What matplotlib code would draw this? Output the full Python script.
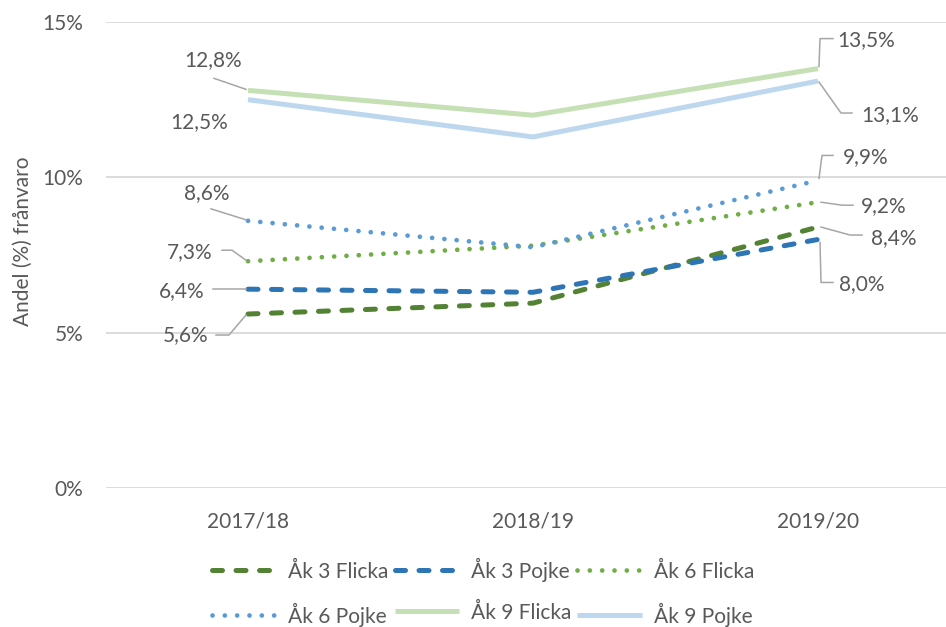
import matplotlib
matplotlib.use("Agg")
import matplotlib.pyplot as plt
from matplotlib.transforms import offset_copy

plt.rcParams['font.family'] = ['Lato', 'DejaVu Sans']

# data
years = ['2017/18', '2018/19', '2019/20']
ak3_flicka = [5.6, 5.95, 8.4]
ak3_pojke = [6.4, 6.3, 8.0]
ak6_flicka = [7.3, 7.8, 9.2]
ak6_pojke = [8.6, 7.75, 9.9]
ak9_flicka = [12.8, 12.0, 13.5]
ak9_pojke = [12.5, 11.3, 13.1]
yticks = [0, 5, 10, 15]

grey = '#595959'
fs = 15
fig = plt.figure(figsize=(9.46, 6.27), dpi=100)
ax = fig.add_axes([105.5 / 946, 139 / 627, 855 / 946, 466 / 627])

x = range(len(years))
dash = dict(linewidth=3.6, dash_capstyle='round', linestyle=(0, (2.0, 2.7)))
dot = dict(linewidth=3.4, dash_capstyle='round', linestyle=(0, (0.01, 2.6)))
solid = dict(linewidth=3.6, solid_capstyle='butt')

l1, = ax.plot(x, ak3_flicka, color='#548235', label='Åk 3 Flicka', **dash)
l2, = ax.plot(x, ak3_pojke, color='#2E75B6', label='Åk 3 Pojke', **dash)
l3, = ax.plot(x, ak6_flicka, color='#70AD47', label='Åk 6 Flicka', **dot)
l4, = ax.plot(x, ak6_pojke, color='#5B9BD5', label='Åk 6 Pojke', **dot)
l5, = ax.plot(x, ak9_flicka, color='#C5E0B4', label='Åk 9 Flicka', **solid)
l6, = ax.plot(x, ak9_pojke, color='#BDD7EE', label='Åk 9 Pojke', **solid)

ax.set_xlim(-0.5, 2.5)
ax.set_ylim(0, 15)
ax.set_yticks(yticks)
ax.set_yticklabels([f'{t}%' for t in yticks])
ax.set_xticks(list(x))
ax.set_xticklabels(years)
ax.tick_params(axis='both', length=0, labelsize=fs, colors=grey)
ax.tick_params(axis='y', pad=16)
ax.tick_params(axis='x', pad=17)
ax.grid(axis='y', color='#D9D9D9', linewidth=1.3)
ax.set_axisbelow(True)
for s in ax.spines.values():
    s.set_visible(False)
ax.set_ylabel('Andel (%) frånvaro', fontsize=fs, color=grey)
ax.yaxis.set_label_coords(-0.085, 0.53)

# data labels: (series, index, text offset, leader points) in pixels from the point
labels = [
    (ak9_flicka, 0, (-35, 30), [(-34, 12), (-2, 1)]),
    (ak9_pojke, 0, (-49, -22), []),
    (ak6_pojke, 0, (-41, 28), [(-37, 12), (-2, 1)]),
    (ak6_flicka, 0, (-58, 9), [(-26, 11), (-16, 11), (-2, 1)]),
    (ak3_pojke, 0, (-66, -2), [(-35, 0), (-2, 0)]),
    (ak3_flicka, 0, (-62, -21), [(-32, -21), (-19, -21), (-2, -1)]),
    (ak9_flicka, 2, (48, 29), [(1, 2), (2, 30), (15, 30)]),
    (ak9_pojke, 2, (72, -34), [(1, -1), (23, -32), (34, -32)]),
    (ak6_pojke, 2, (48, 23), [(1, 2), (4, 25), (15, 25)]),
    (ak6_flicka, 2, (66, -4), [(3, 0), (24, -3), (35, -3)]),
    (ak3_flicka, 2, (76, -11), [(3, 0), (32, -8), (44, -8)]),
    (ak3_pojke, 2, (44, -45), [(2, -3), (3, -43), (15, -43)]),
]
for series, i, (tx, ty), leader in labels:
    v = series[i]
    tr = offset_copy(ax.transData, fig=fig, x=tx, y=ty, units='dots')
    ax.text(i, v, f'{v:.1f}%'.replace('.', ','), transform=tr, fontsize=fs,
            color=grey, ha='center', va='center', clip_on=False)
    if leader:
        pts = [offset_copy(ax.transData, fig=fig, x=dx, y=dy, units='dots').transform((i, v))
               for dx, dy in leader]
        ax.plot([p[0] for p in pts], [p[1] for p in pts], color='#A6A6A6',
                linewidth=1.1, transform=None, clip_on=False)

handles = [l1, l4, l2, l5, l3, l6]
fig.legend(handles=handles, labels=[h.get_label() for h in handles], ncol=3,
           loc='center', bbox_to_anchor=(483 / 946, 35 / 627), frameon=False,
           fontsize=15, labelcolor=grey, handlelength=3.1, handletextpad=0.55,
           columnspacing=0.3, labelspacing=1.0)

fig.savefig('out.png', dpi=100)
